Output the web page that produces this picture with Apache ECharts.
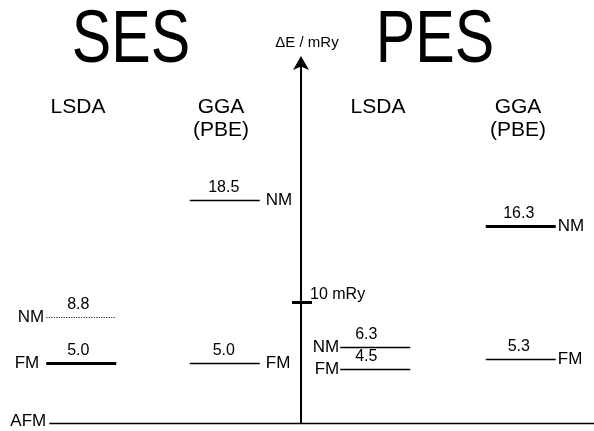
<!DOCTYPE html>
<html><head><meta charset="utf-8">
<script src="https://cdn.jsdelivr.net/npm/echarts@6/dist/echarts.min.js"></script>
<style>html,body{margin:0;padding:0;background:#fff}#c{width:594px;height:431px}</style>
</head><body><div id="c"></div>
<script>
// ---- data ----
const columns = ['SES LSDA', 'SES GGA (PBE)', 'PES LSDA', 'PES GGA (PBE)'];
const levelColumn = [0, 0, 1, 1, 2, 2, 3, 3];
const levelState = ['NM', 'FM', 'NM', 'FM', 'NM', 'FM', 'NM', 'FM'];
const levelValue = [8.8, 5.0, 18.5, 5.0, 6.3, 4.5, 16.3, 5.3];
const baseState = 'AFM';
const baseValue = 0;
const tickValues = [10];
const axisUnit = 'mRy';
const axisName = 'ΔE / mRy';

// ---- styles ----
const FONT = '"Liberation Sans", Arial, Helvetica, sans-serif';
const colStyle = [
  {shift: 0, side: 'left', valueDx: -3},
  {shift: -3, side: 'right', valueDx: -1},
  {shift: 1, side: 'left', valueDx: -9},
  {shift: 0, side: 'right', valueDx: -2}
];
const levelStyle = [
  {width: 1, dotted: true, gap: 2},
  {width: 3, dotted: false, gap: 7},
  {width: 1.3, dotted: false, gap: 6},
  {width: 1.3, dotted: false, gap: 6},
  {width: 1.3, dotted: false, gap: 1},
  {width: 1.3, dotted: false, gap: 1},
  {width: 3, dotted: false, gap: 2},
  {width: 1.3, dotted: false, gap: 2}
];
const HALF = 35;

function txt(text, x, y, size, align, valign) {
  return {type: 'text', x: x, y: y, style: {text: text, fontSize: size, fontFamily: FONT, fill: '#000',
    align: align, textAlign: align, verticalAlign: valign, textVerticalAlign: valign}};
}

const chart = echarts.init(document.getElementById('c'), null, {renderer: 'canvas'});
chart.setOption({
  animation: false,
  backgroundColor: '#fff',
  grid: {left: 8, width: 596, top: 61, bottom: 8},
  xAxis: {type: 'category', data: columns, show: false},
  yAxis: [
    {type: 'value', min: 0, max: 30, position: 'left', offset: -293,
     splitLine: {show: false},
     axisLine: {show: true, lineStyle: {color: '#000', width: 2}, symbol: ['none', 'arrow'], symbolSize: [12, 14], symbolOffset: [0, 5]},
     axisTick: {show: true, customValues: tickValues, length: 9, lineStyle: {color: '#000', width: 3}},
     axisLabel: {show: false},
     name: axisName, nameLocation: 'end', nameGap: 11,
     nameTextStyle: {color: '#000', fontSize: 15, fontFamily: FONT, padding: [0, 0, 0, 12]}},
    {type: 'value', min: 0, max: 30, position: 'left', offset: -293,
     splitLine: {show: false},
     axisLine: {show: false},
     axisTick: {show: true, inside: true, customValues: tickValues, length: 11, lineStyle: {color: '#000', width: 3}},
     axisLabel: {show: true, inside: true, customValues: tickValues, margin: 9, verticalAlign: 'bottom',
       formatter: v => v + ' ' + axisUnit, color: '#000', fontSize: 16, fontFamily: FONT}}
  ],
  graphic: [
    {type: 'text', x: 131, y: 42, scaleX: 0.8, style: {text: 'SES', fontSize: 74, fontFamily: FONT, fill: '#000', align: 'center', textAlign: 'center', verticalAlign: 'middle', textVerticalAlign: 'middle'}},
    {type: 'text', x: 435, y: 42, scaleX: 0.8, style: {text: 'PES', fontSize: 74, fontFamily: FONT, fill: '#000', align: 'center', textAlign: 'center', verticalAlign: 'middle', textVerticalAlign: 'middle'}},
    txt('LSDA', 78, 107, 21, 'center', 'middle'),
    txt('GGA', 221, 107, 21, 'center', 'middle'),
    txt('(PBE)', 221, 130, 21, 'center', 'middle'),
    txt('LSDA', 378, 107, 21, 'center', 'middle'),
    txt('GGA', 518, 107, 21, 'center', 'middle'),
    txt('(PBE)', 518, 130, 21, 'center', 'middle')
  ],
  series: [
    {
      type: 'custom', yAxisIndex: 0,
      data: levelValue.map((v, i) => [levelColumn[i], v]),
      renderItem: function (params, api) {
        const i = params.dataIndex;
        const col = api.value(0), v = api.value(1);
        const p = api.coord([col, v]);
        const cs = colStyle[col], ls = levelStyle[i];
        const cx = p[0] + cs.shift;
        const x0 = cx - HALF, x1 = cx + HALF;
        const y = Math.round(p[1]) + (Math.round(ls.width) % 2 ? 0.5 : 0);
        return {type: 'group', children: [
          {type: 'line', shape: {x1: x0, y1: y, x2: x1, y2: y},
           style: {stroke: '#000', lineWidth: ls.width, lineDash: ls.dotted ? [1, 1.5] : null}},
          txt(v.toFixed(1), cx + cs.valueDx, y - 5, 16, 'center', 'bottom'),
          cs.side === 'left'
            ? txt(levelState[i], x0 - ls.gap, y, 17, 'right', 'middle')
            : txt(levelState[i], x1 + ls.gap, y, 17, 'left', 'middle')
        ]};
      }
    },
    {
      type: 'custom', yAxisIndex: 0,
      data: [[0, baseValue]],
      renderItem: function (params, api) {
        const p = api.coord([api.value(0), api.value(1)]);
        const y = Math.round(p[1]) + 0.5;
        const x0 = p[0] - 32;
        return {type: 'group', children: [
          {type: 'line', shape: {x1: x0, y1: y, x2: api.getWidth(), y2: y}, style: {stroke: '#000', lineWidth: 1.5}},
          txt(baseState, x0 - 3, y - 2, 17, 'right', 'middle')
        ]};
      }
    }
  ]
});
</script>
</body></html>
